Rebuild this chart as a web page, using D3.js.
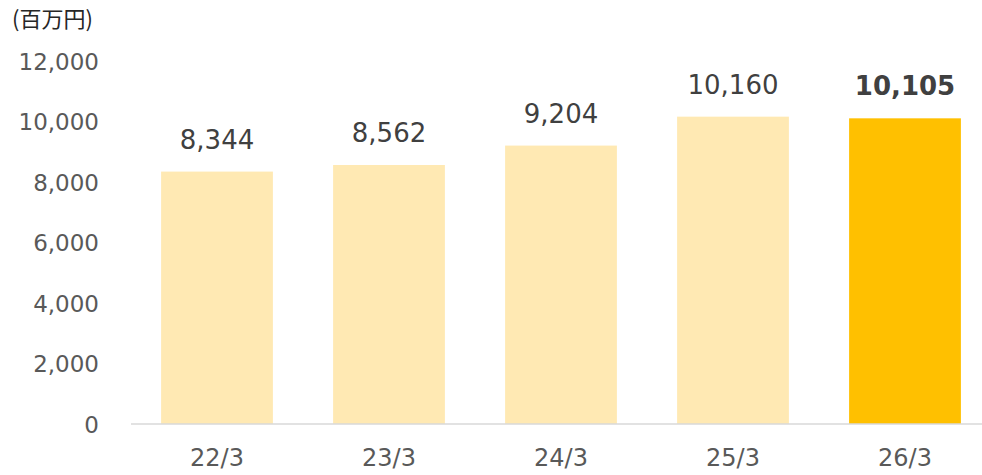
<!DOCTYPE html>
<html>
<head>
<meta charset="utf-8">
<script src="https://cdn.jsdelivr.net/npm/d3@7"></script>
<style>
  body { margin: 0; background: #fff; }
  svg { display: block; font-family: "DejaVu Sans", Verdana, sans-serif; }
</style>
</head>
<body>
<div id="chart"></div>
<script>
const categories = ["22/3", "23/3", "24/3", "25/3", "26/3"];
const values = [8344, 8562, 9204, 10160, 10105];
const highlight = [false, false, false, false, true];
const yTicks = [0, 2000, 4000, 6000, 8000, 10000, 12000];

const width = 982, height = 475;

const svg = d3.select("#chart").append("svg")
  .attr("width", width)
  .attr("height", height);

// scales
const x = d3.scaleBand()
  .domain(categories)
  .range([131, 991])
  .paddingInner(0.35)
  .paddingOuter(0.175);

const y = d3.scaleLinear()
  .domain([0, 12000])
  .range([424, 61]);

// y axis labels (no line)
const yAxis = d3.axisLeft(y)
  .tickValues(yTicks)
  .tickSize(0)
  .tickPadding(0)
  .tickFormat(d3.format(","));

svg.append("g")
  .attr("class", "axis-y")
  .attr("transform", "translate(99,0)")
  .call(yAxis)
  .call(g => g.select(".domain").remove())
  .selectAll("text")
  .attr("fill", "#595959")
  .attr("dy", "0.36em")
  .style("font-size", "23px")
  .style("font-family", "DejaVu Sans, Verdana, sans-serif");

// bars
svg.selectAll(".bar")
  .data(values)
  .enter().append("rect")
  .attr("class", "bar")
  .attr("x", (d, i) => x(categories[i]))
  .attr("y", d => y(d))
  .attr("width", x.bandwidth())
  .attr("height", d => y(0) - y(d))
  .attr("fill", (d, i) => highlight[i] ? "#ffc000" : "#ffe9b3");

// baseline
svg.append("line")
  .attr("x1", 131).attr("x2", width)
  .attr("y1", y(0)).attr("y2", y(0))
  .attr("stroke", "#d9d9d9")
  .attr("stroke-width", 1.5);

// x axis labels
const xAxis = d3.axisBottom(x).tickSize(0).tickPadding(0);
svg.append("g")
  .attr("class", "axis-x")
  .attr("transform", "translate(0,466)")
  .call(xAxis)
  .call(g => g.select(".domain").remove())
  .selectAll("text")
  .attr("dy", 0)
  .attr("fill", "#595959")
  .style("font-size", "24px")
  .style("font-family", "DejaVu Sans, Verdana, sans-serif");

// value labels
svg.selectAll(".val")
  .data(values)
  .enter().append("text")
  .attr("class", "val")
  .attr("x", (d, i) => x(categories[i]) + x.bandwidth() / 2)
  .attr("y", d => y(d) - 23)
  .attr("text-anchor", "middle")
  .attr("fill", "#404040")
  .style("font-size", "26px")
  .style("font-weight", (d, i) => highlight[i] ? "bold" : "normal")
  .text(d => d3.format(",")(d));

// unit label
svg.append("text")
  .attr("x", 12)
  .attr("y", 27)
  .attr("fill", "#262626")
  .style("font-family", "'Noto Sans CJK JP', sans-serif")
  .style("font-size", "22px")
  .text("(百万円)");
</script>
</body>
</html>
